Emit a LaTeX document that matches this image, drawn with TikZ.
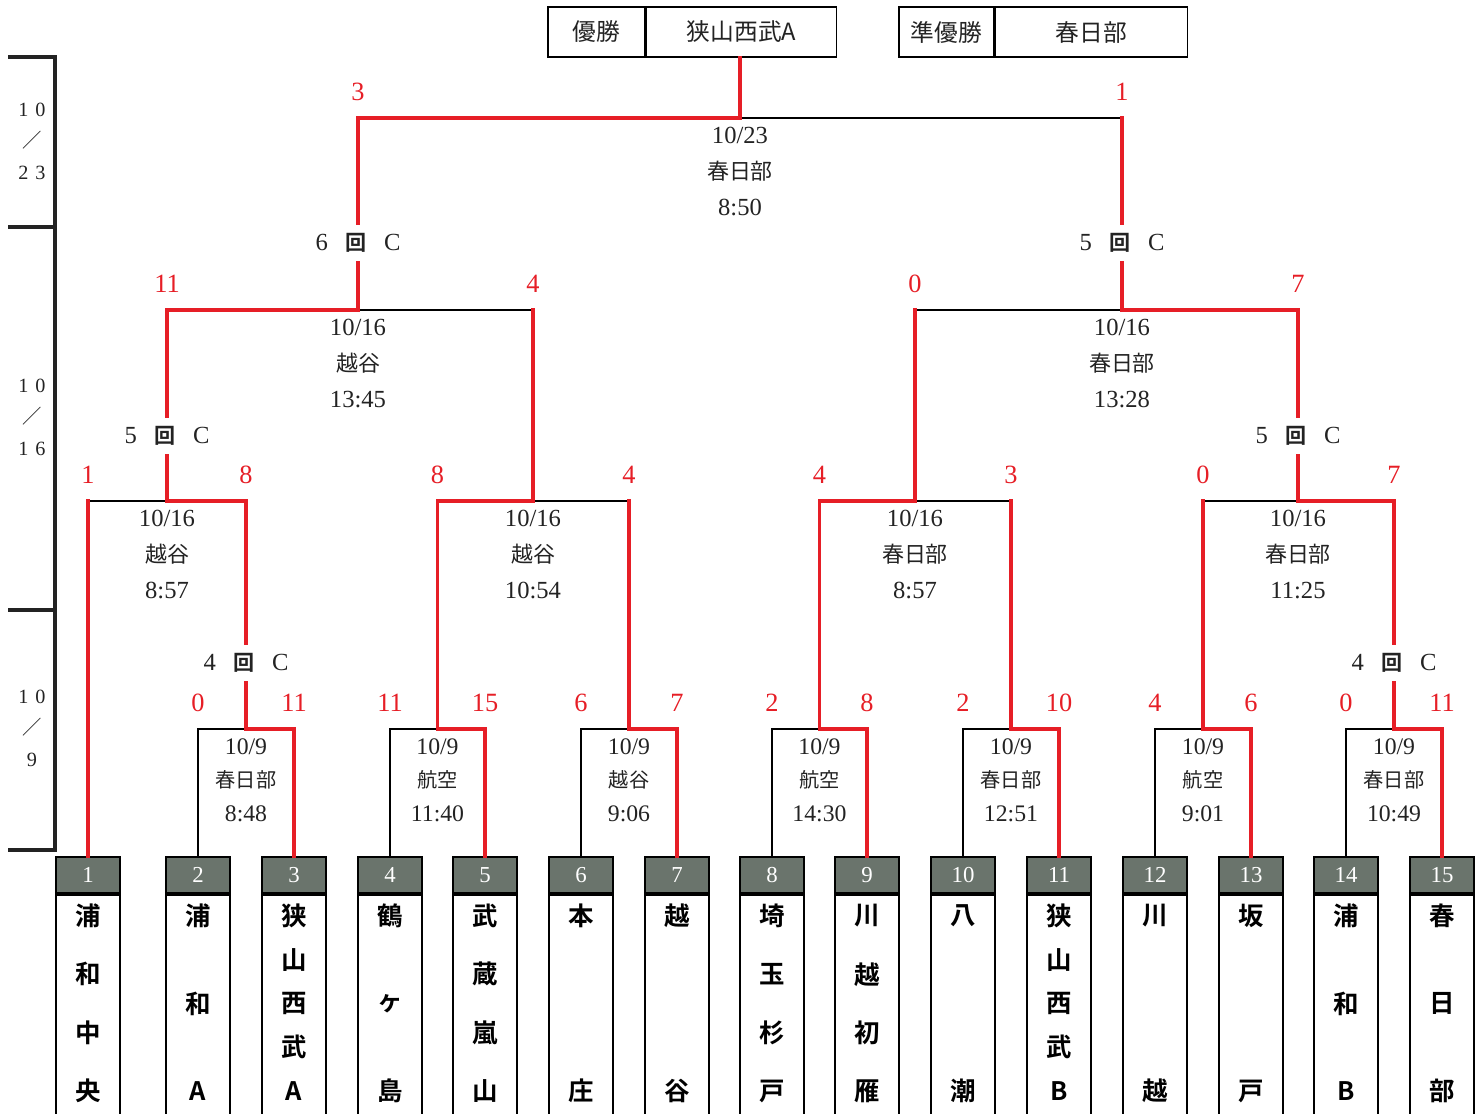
\documentclass[tikz,border=0pt]{standalone}
\usepackage{fontspec}
\setmainfont{Liberation Serif}
\newfontfamily\cjk[BoldFont={Noto Sans CJK JP Bold}]{Noto Sans CJK JP}
\usetikzlibrary{positioning, calc}

\definecolor{winred}{RGB}{230,30,38}
\definecolor{hdgray}{RGB}{106,116,108}
\definecolor{ink}{RGB}{35,35,35}
\newcommand{\plc}[2][12.5]{{\cjk\fontsize{#1}{#1}\selectfont #2}}

\begin{document}
\begin{tikzpicture}[x=0.02cm, y=-0.02cm,
                win/.style={draw=winred, line width=2pt, line cap=rect},
                lose/.style={draw=black, line width=0.8pt},
                score/.style={text=winred, font=\fontsize{15}{15}\selectfont, inner sep=0pt},
                info/.style={align=center, text=ink, anchor=north, inner xsep=3pt, inner ysep=5pt,
                             font=\fontsize{14}{20.4}\selectfont},
                info1/.style={info, font=\fontsize{13.5}{19.3}\selectfont},
                rnd/.style={fill=white, text=ink, inner xsep=1pt, inner ysep=5pt,
                            font=\fontsize{14}{14}\selectfont},
                teamhd/.style={draw, line width=1pt, fill=hdgray, text=white, minimum width=1.28cm,
                               minimum height=0.72cm, inner sep=0pt, font=\fontsize{13}{13}\selectfont},
                teambody/.style={draw, line width=1pt, minimum width=1.28cm, minimum height=6cm, inner sep=0pt},
                namech/.style={font=\cjk\bfseries\fontsize{14.5}{15}\selectfont, inner sep=0pt},
                topbox/.style={draw, line width=0.9pt, minimum height=1cm, inner sep=0pt, text=ink,
                               font=\cjk\fontsize{13.5}{14}\selectfont},
                datemark/.style={align=center, text=ink, font=\fontsize{11.5}{18}\selectfont}]

                \useasboundingbox (0,0) rectangle (1481,1113);

                % Result boxes on top
                \node[topbox, minimum width=1.94cm] (w1) at (596.5,32) {優勝};
                \node[topbox, minimum width=3.8cm, right=0pt of w1] (w2) {狭山西武A};
                \node[topbox, minimum width=1.9cm] (r1) at (946.5,32) {準優勝};
                \node[topbox, minimum width=3.84cm, right=0pt of r1] (r2) {春日部};

                % Date bracket on the left
                \draw[line width=2.3pt, ink] (8,57) -| (55,850) -- (8,850);
                \draw[line width=2.3pt, ink] (8,227) -- (55,227) (8,610) -- (55,610);
                \node[datemark] (d23) at (32,141) {1\hspace{4pt}0\\\plc[11]{／}\\2\hspace{4pt}3};
                \node[datemark] (d16) at (32,417) {1\hspace{4pt}0\\\plc[11]{／}\\1\hspace{4pt}6};
                \node[datemark] (d9) at (32,728) {1\hspace{4pt}0\\\plc[11]{／}\\9};

                % Teams: numbered header and name box
                \foreach \x/\n/\cs [count=\i] in {88/4/{浦,和,中,央}, 198/3/{浦,和,A}, 294/5/{狭,山,西,武,A},
                        390/3/{鶴,ヶ,島}, 485/4/{武,蔵,嵐,山}, 581/2/{本,庄}, 677/2/{越,谷},
                        772/4/{埼,玉,杉,戸}, 867/4/{川,越,初,雁}, 963/2/{八,潮}, 1059/5/{狭,山,西,武,B},
                        1155/2/{川,越}, 1251/2/{坂,戸}, 1346/3/{浦,和,B}, 1442/3/{春,日,部}} {
                    \node[teamhd] (t\i) at (\x,875) {\i};
                    \node[teambody, below=0pt of t\i] (b\i) {};
                    \foreach \ch [count=\j from 0] in \cs
                        \node[namech] (n\i-\j) at (\x,{916+\j*175/(\n-1)}) {\ch};
                }

                % First round (10/9), the right team always won
                \foreach \a/\b/\sa/\sb/\pl/\tm [count=\k] in {2/3/0/11/春日部/8:48, 4/5/11/15/航空/11:40,
                        6/7/6/7/越谷/9:06, 8/9/2/8/航空/14:30, 10/11/2/10/春日部/12:51,
                        12/13/4/6/航空/9:01, 14/15/0/11/春日部/10:49} {
                    \coordinate (m\k) at ($(t\a.north)!0.5!(t\b.north)+(0,-127)$);
                    \draw[lose] (t\a.north) |- (m\k);
                    \draw[win] (t\b.north) |- (m\k);
                    \node[score] (m\k a) at ($(t\a.north)+(0,-153)$) {\sa};
                    \node[score] (m\k b) at ($(t\b.north)+(0,-153)$) {\sb};
                    \node[info1] (m\k i) at (m\k) {10/9\\\plc[11.5]{\pl}\\\tm};
                }

                % Later rounds
                \coordinate (q1) at (167,501);
                \coordinate (q2) at (533,501);
                \coordinate (q3) at (915,501);
                \coordinate (q4) at (1298,501);
                \coordinate (s1) at (358,310);
                \coordinate (s2) at (1122,310);
                \coordinate (fin) at (740,118);

                \foreach \cc/\lft/\rgt/\wn/\ls/\scl/\scr/\dt/\pl/\tm in {
                        q1/t1.north/m1/m1/t1.north/1/8/{10/16}/越谷/8:57,
                        q2/m2/m3/m2/m3/8/4/{10/16}/越谷/10:54,
                        q3/m4/m5/m4/m5/4/3/{10/16}/春日部/8:57,
                        q4/m6/m7/m7/m6/0/7/{10/16}/春日部/11:25,
                        s1/q1/q2/q1/q2/11/4/{10/16}/越谷/13:45,
                        s2/q3/q4/q4/q3/0/7/{10/16}/春日部/13:28,
                        fin/s1/s2/s1/s2/3/1/{10/23}/春日部/8:50} {
                    \draw[lose] (\ls |- \cc) -- (\cc);
                    \draw[win] (\ls) -- (\ls |- \cc);
                    \draw[win] (\wn) |- (\cc);
                    \node[score] (\cc a) at ($(\lft |- \cc)+(0,-26)$) {\scl};
                    \node[score] (\cc b) at ($(\rgt |- \cc)+(0,-26)$) {\scr};
                    \node[info] (\cc i) at (\cc) {\dt\\\plc{\pl}\\\tm};
                }

                % Final winner up to the title box
                \draw[win] (fin) -- (fin |- w2.south);

                % Court labels on the lines
                \node[rnd] (c1) at (246,663) {4\hspace{10pt}\plc[12]{\bfseries 回}\hspace{10pt}C};
                \node[rnd] (c2) at (1394,663) {4\hspace{10pt}\plc[12]{\bfseries 回}\hspace{10pt}C};
                \node[rnd] (c3) at (167,436) {5\hspace{10pt}\plc[12]{\bfseries 回}\hspace{10pt}C};
                \node[rnd] (c4) at (1298,436) {5\hspace{10pt}\plc[12]{\bfseries 回}\hspace{10pt}C};
                \node[rnd] (c5) at (358,243) {6\hspace{10pt}\plc[12]{\bfseries 回}\hspace{10pt}C};
                \node[rnd] (c6) at (1122,243) {5\hspace{10pt}\plc[12]{\bfseries 回}\hspace{10pt}C};
            \end{tikzpicture}
\end{document}
